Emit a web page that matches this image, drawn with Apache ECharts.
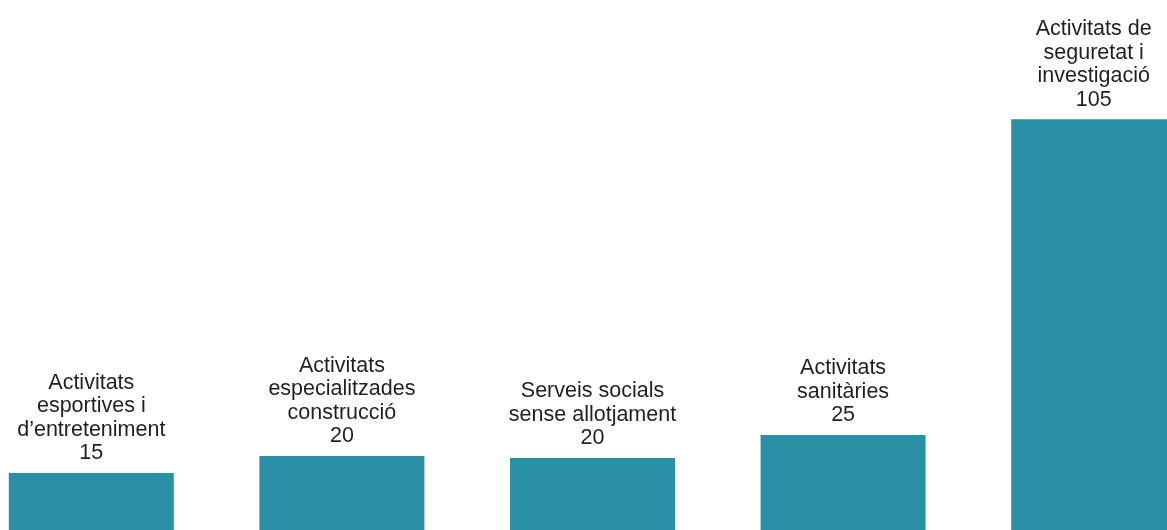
<!DOCTYPE html>
<html>
<head>
<meta charset="utf-8">
<script src="https://cdn.jsdelivr.net/npm/echarts@6/dist/echarts.min.js"></script>
<style>
html,body{margin:0;padding:0;background:#fff;overflow:hidden;width:1167px;height:530px;}
#c{position:absolute;left:-34px;top:0;width:1253px;height:530px;}
</style>
</head>
<body>
<div id="c"></div>
<script>
const categories = [
  "Activitats\nesportives i\nd\u2019entreteniment",
  "Activitats\nespecialitzades\nconstrucció",
  "Serveis socials\nsense allotjament",
  "Activitats\nsanitàries",
  "Activitats de\nseguretat i\ninvestigació"
];
const values = [14.6, 18.9, 18.4, 24.3, 105];
const valueLabels = ["15", "20", "20", "25", "105"];

const chart = echarts.init(document.getElementById('c'));
chart.setOption({
  animation: false,
  grid: { left: 0, right: 0, top: 2, bottom: 0, containLabel: false },
  xAxis: {
    type: 'category',
    data: categories,
    show: false
  },
  yAxis: {
    type: 'value',
    min: 0,
    max: 135,
    show: false
  },
  series: [{
    type: 'bar',
    data: values,
    barWidth: 165,
    itemStyle: { color: '#2a90a6' },
    label: {
      show: true,
      position: 'top',
      distance: 8,
      fontFamily: 'Liberation Sans, Arial, sans-serif',
      fontSize: 21.5,
      lineHeight: 23.5,
      color: '#231f20',
      align: 'center',
      formatter: function (p) {
        return categories[p.dataIndex] + '\n' + valueLabels[p.dataIndex];
      }
    }
  }]
});
</script>
</body>
</html>
